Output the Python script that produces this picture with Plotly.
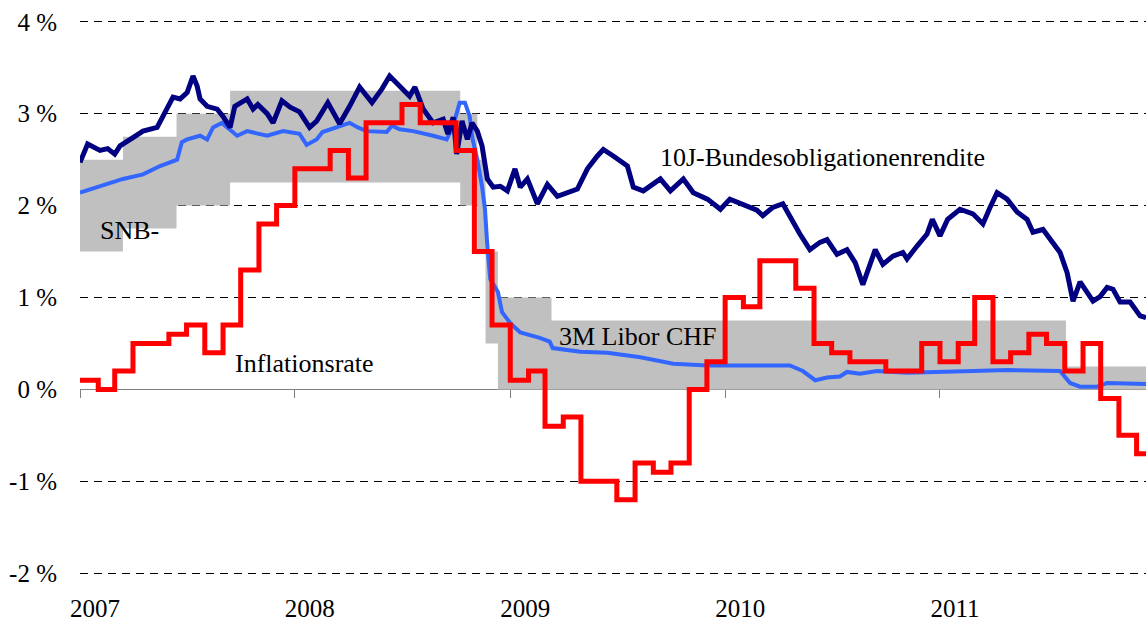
import plotly.graph_objects as go
import pandas as pd

# ---------------- data ----------------
years = ["2007", "2008", "2009", "2010", "2011"]
year_starts = ["2007-01-01", "2008-01-01", "2009-01-01", "2010-01-01", "2011-01-01"]
x_end = "2011-12-17"

# SNB target range (step changes)
snb_dates = ["2007-01-01", "2007-03-15", "2007-06-14", "2007-09-13", "2008-10-08",
             "2008-11-06", "2008-11-20", "2008-12-11", "2009-03-12", "2011-08-03", "2011-12-31"]
snb_lower = [1.50, 1.75, 2.00, 2.25, 2.00, 1.50, 0.50, 0.00, 0.00, 0.00, 0.00]
snb_upper = [2.50, 2.75, 3.00, 3.25, 3.00, 2.50, 1.50, 1.00, 0.75, 0.25, 0.25]

# Inflation rate (monthly, y/y %)
infl_months = pd.date_range("2007-01-01", periods=60, freq="MS").strftime("%Y-%m-%d").tolist()
infl_values = [0.1, 0.0, 0.2, 0.5, 0.5, 0.6, 0.7, 0.4, 0.7, 1.3, 1.8, 2.0,
               2.4, 2.4, 2.6, 2.3, 2.9, 2.9, 3.1, 2.9, 2.9, 2.6, 1.5, 0.7,
               0.1, 0.2, -0.4, -0.3, -1.0, -1.0, -1.2, -0.8, -0.9, -0.8, 0.0, 0.3,
               1.0, 0.9, 1.4, 1.4, 1.1, 0.5, 0.4, 0.3, 0.3, 0.2, 0.2, 0.5,
               0.3, 0.5, 1.0, 0.3, 0.4, 0.6, 0.5, 0.2, 0.5, -0.1, -0.5, -0.7]

# 10-year Swiss government bond yield
bond_dates = [
    "2007-01-01", "2007-01-14", "2007-02-04", "2007-02-17", "2007-03-01", "2007-03-10", "2007-04-01",
    "2007-04-18", "2007-05-12", "2007-05-22", "2007-06-08", "2007-06-20", "2007-07-02", "2007-07-12",
    "2007-07-19", "2007-07-24", "2007-08-05", "2007-08-22", "2007-09-01", "2007-09-13", "2007-09-21",
    "2007-10-12", "2007-10-22", "2007-10-30", "2007-11-15", "2007-11-25", "2007-12-10", "2007-12-24",
    "2008-01-09", "2008-01-26", "2008-02-07", "2008-02-26", "2008-03-17", "2008-04-03", "2008-04-20",
    "2008-05-11", "2008-05-28", "2008-06-10", "2008-06-27", "2008-07-14", "2008-07-23", "2008-08-06",
    "2008-08-23", "2008-09-09", "2008-09-17", "2008-09-26", "2008-10-02", "2008-10-11", "2008-10-20",
    "2008-10-28", "2008-11-06", "2008-11-14", "2008-11-23", "2008-12-03", "2008-12-15", "2008-12-27",
    "2009-01-09", "2009-01-18", "2009-01-30", "2009-02-16", "2009-03-05", "2009-03-22", "2009-04-25",
    "2009-05-12", "2009-05-29", "2009-06-08", "2009-06-25", "2009-07-19", "2009-07-29", "2009-08-15",
    "2009-09-13", "2009-09-30", "2009-10-22", "2009-11-08", "2009-12-02", "2009-12-24",
    "2010-01-09", "2010-02-07", "2010-02-24", "2010-03-06", "2010-03-23", "2010-04-09", "2010-04-26",
    "2010-05-08", "2010-05-25", "2010-06-11", "2010-06-23", "2010-07-10", "2010-07-27", "2010-08-10",
    "2010-08-23", "2010-09-04", "2010-09-13", "2010-09-26", "2010-10-13", "2010-10-30", "2010-11-06",
    "2010-11-23", "2010-12-10", "2010-12-19",
    "2011-01-01", "2011-01-14", "2011-02-04", "2011-02-26", "2011-03-15", "2011-03-27", "2011-04-08",
    "2011-04-25", "2011-05-12", "2011-05-29", "2011-06-08", "2011-06-25", "2011-07-12", "2011-07-24",
    "2011-08-05", "2011-08-15", "2011-08-27", "2011-09-08", "2011-09-18", "2011-09-30", "2011-10-12",
    "2011-10-22", "2011-11-03", "2011-11-20", "2011-12-07", "2011-12-17"]
bond_values = [
    2.47, 2.67, 2.60, 2.62, 2.56, 2.65, 2.74, 2.81, 2.85, 2.97, 3.18, 3.16, 3.23, 3.41,
    3.30, 3.16, 3.08, 3.05, 2.97, 2.85, 3.08, 3.16, 3.05, 3.10, 3.00, 2.90, 3.14, 3.07,
    3.02, 2.85, 2.92, 3.12, 2.89, 3.08, 3.29, 3.12, 3.27, 3.41, 3.30, 3.19, 3.29, 3.05,
    2.90, 2.94, 2.78, 2.96, 2.56, 2.92, 2.72, 2.90, 2.81, 2.65, 2.29, 2.20, 2.21, 2.16,
    2.40, 2.20, 2.29, 2.02, 2.23, 2.10, 2.18, 2.40, 2.54, 2.61, 2.54, 2.43, 2.20, 2.16,
    2.29, 2.16, 2.29, 2.14, 2.07, 1.96,
    2.07, 2.00, 1.95, 1.89, 1.98, 2.02, 1.82, 1.69, 1.52, 1.60, 1.63, 1.47, 1.52, 1.38,
    1.14, 1.38, 1.52, 1.36, 1.45, 1.49, 1.42, 1.56, 1.69, 1.85,
    1.67, 1.85, 1.96, 1.91, 1.80, 1.98, 2.14, 2.07, 1.93, 1.85, 1.71, 1.74, 1.60, 1.49,
    1.27, 0.96, 1.17, 1.06, 0.96, 1.01, 1.11, 1.09, 0.95, 0.95, 0.80, 0.78]

# 3M Libor CHF
libor_dates = [
    "2007-01-01", "2007-01-30", "2007-03-15", "2007-04-18", "2007-05-17", "2007-06-15", "2007-06-23",
    "2007-07-02", "2007-07-24", "2007-08-05", "2007-08-15", "2007-08-30", "2007-09-13", "2007-09-25",
    "2007-10-12", "2007-11-15", "2007-12-12",
    "2008-01-09", "2008-01-21", "2008-02-07", "2008-02-17", "2008-03-22", "2008-04-03", "2008-04-17",
    "2008-05-02", "2008-06-05", "2008-06-14", "2008-06-27", "2008-07-20", "2008-08-23", "2008-09-15",
    "2008-09-26", "2008-10-07", "2008-10-16", "2008-10-24", "2008-10-29", "2008-11-06", "2008-11-14",
    "2008-11-19", "2008-11-23", "2008-11-28", "2008-12-11", "2008-12-18",
    "2009-01-01", "2009-01-18", "2009-02-20", "2009-03-09", "2009-03-14", "2009-04-30", "2009-06-15",
    "2009-08-10", "2009-10-05", "2009-10-29", "2009-12-02",
    "2010-01-26", "2010-02-24", "2010-04-21", "2010-05-13", "2010-06-03", "2010-06-23", "2010-07-15",
    "2010-07-27", "2010-08-18", "2010-09-16", "2010-11-06",
    "2011-02-26", "2011-04-25", "2011-07-24", "2011-08-10", "2011-08-27", "2011-09-25", "2011-10-12",
    "2011-12-17"]
libor_values = [
    2.14, 2.20, 2.29, 2.34, 2.43, 2.50, 2.69, 2.72, 2.76, 2.72, 2.85, 2.90, 2.83, 2.76,
    2.81, 2.76, 2.81,
    2.78, 2.66, 2.72, 2.80, 2.87, 2.90, 2.85, 2.81, 2.80, 2.87, 2.83, 2.81, 2.76, 2.72,
    2.87, 3.12, 3.12, 2.97, 2.72, 2.50, 2.21, 1.96, 1.56, 1.20, 1.06, 0.84,
    0.72, 0.62, 0.56, 0.52, 0.45, 0.41, 0.40, 0.35, 0.28, 0.27, 0.26,
    0.26, 0.26, 0.26, 0.20, 0.10, 0.13, 0.14, 0.19, 0.17, 0.20, 0.18,
    0.20, 0.21, 0.20, 0.07, 0.03, 0.03, 0.07, 0.06]

y_ticks = [-2, -1, 0, 1, 2, 3, 4]
y_pad = 0.03
y_min, y_max = y_ticks[0] - y_pad, y_ticks[-1] + y_pad

# ---------------- figure ----------------
SERIF = "Liberation Serif, Times New Roman, serif"
fig = go.Figure()

# SNB band
fig.add_trace(go.Scatter(x=snb_dates, y=snb_lower, mode="lines", line=dict(width=0, shape="hv"),
                         hoverinfo="skip", showlegend=False))
fig.add_trace(go.Scatter(x=snb_dates, y=snb_upper, mode="lines", line=dict(width=0, shape="hv"),
                         fill="tonexty", fillcolor="#C0C0C0", hoverinfo="skip", showlegend=False))

# Libor
fig.add_trace(go.Scatter(x=libor_dates, y=libor_values, mode="lines",
                         line=dict(color="#3366FF", width=4), showlegend=False))
# Bond yield
fig.add_trace(go.Scatter(x=bond_dates, y=bond_values, mode="lines",
                         line=dict(color="#000080", width=5), showlegend=False))
# Inflation (step)
infl_x = infl_months + ["2011-12-31"]
infl_y = infl_values + [infl_values[-1]]
fig.add_trace(go.Scatter(x=infl_x, y=infl_y, mode="lines",
                         line=dict(color="#FF0000", width=5, shape="hv"), showlegend=False))

# zero axis with year ticks
fig.add_trace(go.Scatter(x=[year_starts[0]], y=[None], xaxis="x2", showlegend=False, hoverinfo="skip"))

labels = [
    ("SNB-", "2007-01-31", 1.73),
    ("10J-Bundesobligationenrendite", "2009-09-09", 2.52),
    ("Inflationsrate", "2007-09-18", 0.28),
    ("3M Libor CHF", "2009-03-22", 0.58),
]
for txt, xx, yy in labels:
    fig.add_annotation(x=xx, y=yy, text=txt, showarrow=False, xanchor="left", yanchor="middle",
                       font=dict(family=SERIF, size=26, color="black"))

fig.update_layout(
    width=1146, height=623,
    margin=dict(l=80, r=0, t=19, b=47, autoexpand=False),
    paper_bgcolor="white", plot_bgcolor="white",
    showlegend=False,
    xaxis=dict(range=["2007-01-01", x_end], tickvals=year_starts, ticktext=years,
               showgrid=False, showline=False, zeroline=False, ticks="", automargin=False,
               ticklabelshift=15, ticklabelstandoff=15,
               tickfont=dict(family=SERIF, size=25, color="black")),
    xaxis2=dict(overlaying="x", matches="x", anchor="free",
                position=(0 - y_min) / (y_max - y_min), automargin=False,
                tickvals=year_starts, showticklabels=False, ticks="outside", ticklen=8,
                tickcolor="#808080", tickwidth=1, showline=True, linecolor="#808080", linewidth=1,
                showgrid=False, zeroline=False, layer="below traces"),
    yaxis=dict(range=[y_min, y_max], tickvals=y_ticks, ticktext=[f"{v} %" for v in y_ticks],
               showgrid=True, gridcolor="black", gridwidth=1, griddash="8px,6px", automargin=False,
               zeroline=False, showline=False, ticks="", ticklabelstandoff=22,
               tickfont=dict(family=SERIF, size=25, color="black")),
)

fig.write_html("out.html", config={"displayModeBar": False},
               post_script="document.body.style.margin='0';document.body.style.padding='0';")
